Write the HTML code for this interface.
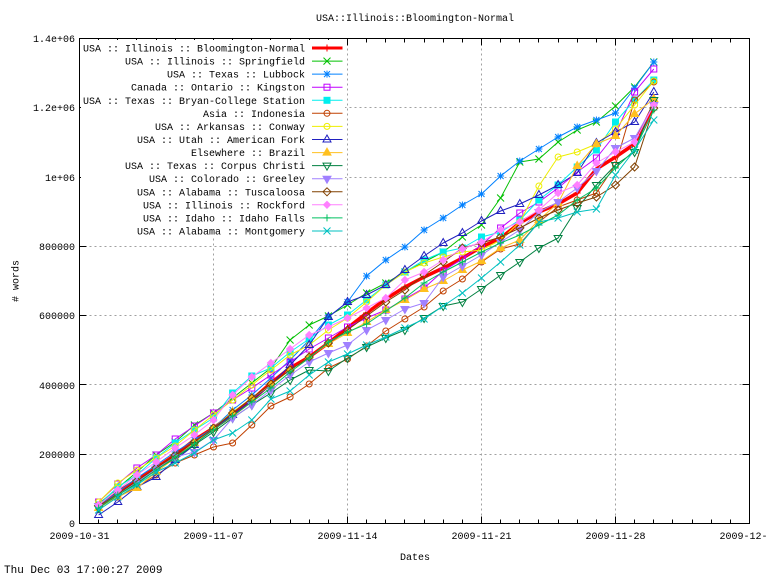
<!DOCTYPE html>
<html><head><meta charset="utf-8"><style>
html,body{margin:0;padding:0;background:#fff;}
svg{display:block;}
text{font-family:"Liberation Mono",monospace;font-size:10px;fill:#000;}
</style></head><body>
<svg id="c" width="768" height="576" viewBox="0 0 768 576" xmlns="http://www.w3.org/2000/svg">
<rect width="768" height="576" fill="#fff"/>
<g id="grid" stroke="#a0a0a0" stroke-width="1" stroke-dasharray="2,3" fill="none"></g>
<g id="ticks" stroke="#000" stroke-width="1" fill="none"></g>
<g id="series"></g>
<rect x="81" y="40" width="264" height="198" fill="#fff"/>
<g id="legend"></g>
<rect x="79.5" y="38.5" width="670" height="485" fill="none" stroke="#000" stroke-width="1"/>
<g id="labels">
<text x="415" y="21" text-anchor="middle">USA::Illinois::Bloomington-Normal</text>
<text x="75" y="527" text-anchor="end">0</text>
<text x="75" y="458" text-anchor="end">200000</text>
<text x="75" y="389" text-anchor="end">400000</text>
<text x="75" y="319" text-anchor="end">600000</text>
<text x="75" y="250" text-anchor="end">800000</text>
<text x="75" y="181" text-anchor="end">1e+06</text>
<text x="75" y="111" text-anchor="end">1.2e+06</text>
<text x="75" y="42" text-anchor="end">1.4e+06</text>
<text x="79.5" y="539" text-anchor="middle">2009-10-31</text>
<text x="213.5" y="539" text-anchor="middle">2009-11-07</text>
<text x="347.5" y="539" text-anchor="middle">2009-11-14</text>
<text x="481.5" y="539" text-anchor="middle">2009-11-21</text>
<text x="615.5" y="539" text-anchor="middle">2009-11-28</text>
<text x="749.5" y="539" text-anchor="middle">2009-12-05</text>
<text x="415" y="560" text-anchor="middle">Dates</text>
<text x="18.5" y="281" text-anchor="middle" transform="rotate(-90 18.5 281)"># words</text>
<text x="4" y="573" style="font-size:11px">Thu Dec 03 17:00:27 2009</text>
</g>
</svg>
<script>
(function(){
var NS="http://www.w3.org/2000/svg";
function X(d){return 79.5+d*670/35;}
function Yv(v){return 523.5-v/1.4e6*485;}
var grid=document.getElementById('grid');
var ticks=document.getElementById('ticks');
var g='',t='';
var ys=[200000,400000,600000,800000,1000000,1200000];
ys.forEach(function(v){var y=Math.round(523-v/1.4e6*485)+0.5;
 g+='<path d="M79.5 '+y+'H749.5"/>';});
[7,14,21,28].forEach(function(d){var x=Math.round(79+d*670/35)+0.5;
 g+='<path d="M'+x+' 38.5V523.5"/>';});
grid.innerHTML=g;
[0,200000,400000,600000,800000,1000000,1200000,1400000].forEach(function(v){var y=Math.round(523-v/1.4e6*485)+0.5;
 t+='<path d="M79.5 '+y+'h7M749.5 '+y+'h-7"/>';});
for(var d=0;d<=35;d++){var x=Math.round(79+d*670/35)+0.5;var L=(d%7==0)?7:4;
 t+='<path d="M'+x+' 523.5v-'+L+'M'+x+' 38.5v'+L+'"/>';}
ticks.innerHTML=t;

var S=[
["USA :: Illinois :: Bloomington-Normal","#ff0000",1,[506,492,480,468,455,440,428,415,400,383,368,357,343,328,313,299,287,277,268,258,247,238,223,212,204,193,169,157,144,105]],
["USA :: Illinois :: Springfield","#00c000",2,[504,488,472,455,442,425,413,398,383,368,340,325,316,305,293,283,272,262,252,237,225,198,162,159,142,130,122,106,87,62]],
["USA :: Texas :: Lubbock","#0080ff",3,[506,492,478,465,452,440,428,410,395,378,360,340,317,302,276,260,247,230,218,205,194,176,161,149,137,127,120,113,88,62]],
["Canada :: Ontario :: Kingston","#c000ff",4,[502,484,468,455,439,426,413,400,388,375,362,349,338,327,318,310,299,288,271,259,245,228,213,202,188,172,158,134,92,69]],
["USA :: Texas :: Bryan-College Station","#00eeee",5,[505,487,475,458,443,430,418,393,376,368,352,339,325,315,300,285,272,260,252,248,237,232,220,200,185,167,150,122,100,80]],
["Asia :: Indonesia","#c04000",6,[505,497,487,475,463,455,447,443,425,406,397,384,368,359,346,331,319,307,291,279,262,249,244,222,207,200,193,165,100,82]],
["USA :: Arkansas :: Conway","#eeee00",6,[502,483,470,458,446,430,415,400,385,370,355,345,330,318,302,285,272,263,257,252,250,240,222,186,157,152,144,129,105,81]],
["USA :: Utah :: American Fork","#2020c0",8,[515,502,487,477,460,445,428,415,400,385,365,345,317,302,295,285,270,256,243,233,221,211,204,195,185,173,143,132,122,92]],
["Elsewhere :: Brazil","#ffc020",9,[508,497,488,472,458,443,428,412,398,385,370,357,344,333,322,310,300,289,281,270,261,248,240,220,203,166,144,136,114,99]],
["USA :: Texas :: Corpus Christi","#008040",10,[508,495,483,470,458,445,432,418,405,393,380,370,371,358,347,338,330,318,306,302,289,275,262,248,238,208,185,165,152,100]],
["USA :: Colorado :: Greeley","#a080ff",11,[506,494,482,469,457,452,440,418,405,390,375,362,353,345,330,320,309,303,277,266,255,242,230,212,202,188,171,148,138,105]],
["USA :: Alabama :: Tuscaloosa","#804000",12,[506,494,481,468,455,442,428,413,398,384,370,357,343,330,316,302,290,275,262,248,243,237,228,218,210,203,197,185,167,108]],
["USA :: Illinois :: Rockford","#ff80ff",13,[505,490,475,462,448,435,420,395,377,363,349,335,327,318,308,298,280,272,260,249,242,230,222,210,193,185,163,152,142,105]],
["USA :: Idaho :: Idaho Falls","#00c060",1,[508,495,484,470,457,444,430,416,402,388,372,358,342,332,324,311,298,283,272,262,252,243,235,225,215,200,188,168,150,110]],
["USA :: Alabama :: Montgomery","#00c0c0",2,[510,497,485,472,463,453,440,433,420,399,391,375,362,354,345,337,328,319,306,293,278,262,245,222,218,212,209,175,150,120]]
];
function mk(tp,x,y,c){
 var s=3.5,o='';
 var st=' stroke="'+c+'" stroke-width="1" fill="none"';
 var fl=' fill="'+c+'" stroke="'+c+'" stroke-width="1"';
 function P(pts,fill){return '<polygon points="'+pts.map(function(p){return (x+p[0])+','+(y+p[1]);}).join(' ')+'"'+(fill?fl:st)+'/>';}
 switch(tp){
 case 1: o='<path d="M'+(x-s)+' '+y+'H'+(x+s)+'M'+x+' '+(y-s)+'V'+(y+s)+'"'+st+'/>';break;
 case 2: o='<path d="M'+(x-s)+' '+(y-s)+'L'+(x+s)+' '+(y+s)+'M'+(x-s)+' '+(y+s)+'L'+(x+s)+' '+(y-s)+'"'+st+'/>';break;
 case 3: o='<path d="M'+(x-s)+' '+y+'H'+(x+s)+'M'+x+' '+(y-s)+'V'+(y+s)+'M'+(x-3)+' '+(y-3)+'L'+(x+3)+' '+(y+3)+'M'+(x-3)+' '+(y+3)+'L'+(x+3)+' '+(y-3)+'"'+st+'/>';break;
 case 4: o='<rect x="'+(x-3)+'" y="'+(y-3)+'" width="6" height="6"'+st+'/>';break;
 case 5: o='<rect x="'+(x-3.5)+'" y="'+(y-3.5)+'" width="7" height="7" fill="'+c+'"/>';break;
 case 6: o='<circle cx="'+x+'" cy="'+y+'" r="3"'+st+'/>';break;
 case 8: o=P([[0,-4.5],[-4,2.5],[4,2.5]],false);break;
 case 9: o=P([[0,-4.5],[-4,2.5],[4,2.5]],true);break;
 case 10: o=P([[0,4.5],[-4,-2.5],[4,-2.5]],false);break;
 case 11: o=P([[0,4.5],[-4,-2.5],[4,-2.5]],true);break;
 case 12: o=P([[0,-4],[4,0],[0,4],[-4,0]],false);break;
 case 13: o=P([[0,-3.5],[3.5,0],[0,3.5],[-3.5,0]],true);break;
 }
 return o;
}
var out='',leg='';
S.forEach(function(s,i){
 var pts=s[3].map(function(y,k){return [X(k+1),y];});
 var w=(i==0)?3.5:1;
 out+='<polyline fill="none" stroke="'+s[1]+'" stroke-width="'+w+'" stroke-linejoin="round" points="'+pts.map(function(p){return p[0].toFixed(1)+','+p[1];}).join(' ')+'"/>';
 pts.forEach(function(p){out+=mk(s[2],+p[0].toFixed(1),p[1],s[1]);});
 var ly=48+i*13.07;
 leg+='<text x="305" y="'+(ly+3.5).toFixed(1)+'" text-anchor="end">'+s[0]+'</text>';
 leg+='<path d="M312 '+ly.toFixed(1)+'H342.5" stroke="'+s[1]+'" stroke-width="'+(i==0?3:1)+'" fill="none"/>';
 leg+=mk(s[2],327,+ly.toFixed(1),s[1]);
});
document.getElementById('series').innerHTML=out;
document.getElementById('legend').innerHTML=leg;
})();
</script>
</body></html>
